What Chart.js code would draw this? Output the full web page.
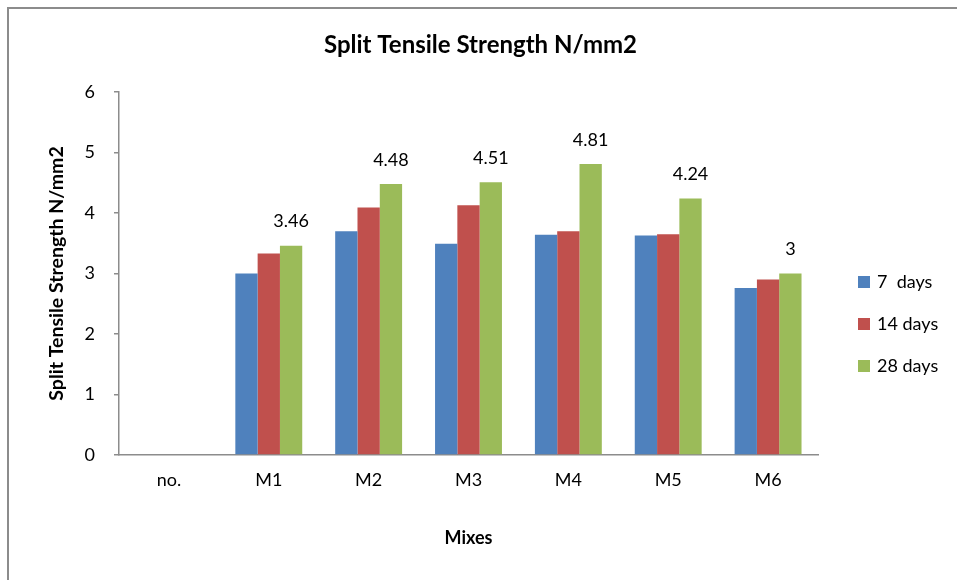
<!DOCTYPE html>
<html>
<head>
<meta charset="utf-8">
<script src="https://cdn.jsdelivr.net/npm/chart.js@4.4.2/dist/chart.umd.min.js"></script>
<style>
  html, body { margin: 0; padding: 0; background: #fff; }
  #wrap { position: relative; width: 957px; height: 580px; }
  #frame {
    position: absolute; left: 7px; top: 7px; width: 960px; height: 590px;
    border-left: 2px solid #8c8c8c; border-top: 2px solid #8c8c8c;
    pointer-events: none;
  }
</style>
</head>
<body>
<div id="wrap">
  <canvas id="chart" width="957" height="580"></canvas>
  <div id="frame"></div>
</div>
<script>
const categories = ['no.', 'M1', 'M2', 'M3', 'M4', 'M5', 'M6'];
const days7 = [null, 3.00, 3.70, 3.49, 3.64, 3.63, 2.76];
const days14 = [null, 3.33, 4.09, 4.13, 3.70, 3.65, 2.90];
const days28 = [null, 3.46, 4.48, 4.51, 4.81, 4.24, 3];
const seriesLabels = ['7  days', '14 days', '28 days'];
const yTicks = [0, 1, 2, 3, 4, 5, 6];
const chartTitle = 'Split Tensile Strength N/mm2';

const FONT = 'Lato, "Open Sans", sans-serif';
const axisGrey = '#8c8c8c';

// value labels above the 28 days bars
const valueLabels = {
  id: 'valueLabels',
  afterDatasetsDraw(chart) {
    const ctx = chart.ctx;
    const meta = chart.getDatasetMeta(2);
    ctx.save();
    ctx.font = '18px ' + FONT;
    ctx.fillStyle = '#000';
    ctx.textAlign = 'center';
    ctx.textBaseline = 'middle';
    meta.data.forEach((bar, i) => {
      const v = days28[i];
      if (v == null) return;
      ctx.fillText(String(v), bar.x, bar.y - 24);
    });
    ctx.restore();
  }
};

// title centred on the whole canvas, legend on the right (Excel style)
const titleAndLegend = {
  id: 'titleAndLegend',
  afterDraw(chart) {
    const ctx = chart.ctx;
    ctx.save();
    ctx.font = 'bold 24px ' + FONT;
    ctx.fillStyle = '#000';
    ctx.textAlign = 'center';
    ctx.textBaseline = 'middle';
    ctx.fillText(chartTitle, chart.width / 2 + 2, 45);

    const x = chart.chartArea.right + 40;
    ctx.font = '18px ' + FONT;
    ctx.textAlign = 'left';
    chart.data.datasets.forEach((ds, i) => {
      const y = 282 + i * 42;
      ctx.fillStyle = ds.backgroundColor;
      ctx.fillRect(x, y - 6, 12, 12);
      ctx.fillStyle = '#000';
      ctx.fillText(ds.label, x + 19, y);
    });
    ctx.restore();
  }
};

new Chart(document.getElementById('chart'), {
  type: 'bar',
  data: {
    labels: categories,
    datasets: [
      { label: seriesLabels[0], data: days7, backgroundColor: '#4F81BD' },
      { label: seriesLabels[1], data: days14, backgroundColor: '#C0504D' },
      { label: seriesLabels[2], data: days28, backgroundColor: '#9BBB59' }
    ]
  },
  options: {
    responsive: false,
    animation: false,
    categoryPercentage: 0.67,
    barPercentage: 1.0,
    layout: { padding: { left: 0, right: 139, top: 92, bottom: 0 } },
    plugins: {
      legend: { display: false },
      tooltip: { enabled: false },
      title: { display: false }
    },
    scales: {
      x: {
        grid: { display: false, drawTicks: false },
        border: { display: true, color: axisGrey, width: 1.5 },
        ticks: { color: '#000', font: { family: FONT, size: 18 }, padding: 14 },
        title: {
          display: true,
          text: 'Mixes',
          color: '#000',
          font: { family: FONT, size: 18, weight: 'bold' },
          padding: { top: 0, bottom: 31 }
        },
        afterFit(scale) { scale.height = 125; }
      },
      y: {
        min: 0,
        max: 6,
        afterBuildTicks(scale) { scale.ticks = yTicks.map(v => ({ value: v })); },
        grid: { drawOnChartArea: false, drawTicks: true, tickLength: 5, color: axisGrey, lineWidth: 1.5 },
        border: { display: true, color: axisGrey, width: 1.5 },
        ticks: { color: '#000', font: { family: FONT, size: 18 }, padding: 19 },
        title: {
          display: true,
          text: 'Split Tensile Strength N/mm2',
          color: '#000',
          font: { family: FONT, size: 19.5, weight: 'bold' },
          padding: { top: 45, bottom: 0 }
        },
        afterFit(scale) { scale.width = 119; }
      }
    }
  },
  plugins: [valueLabels, titleAndLegend]
});
</script>
</body>
</html>
